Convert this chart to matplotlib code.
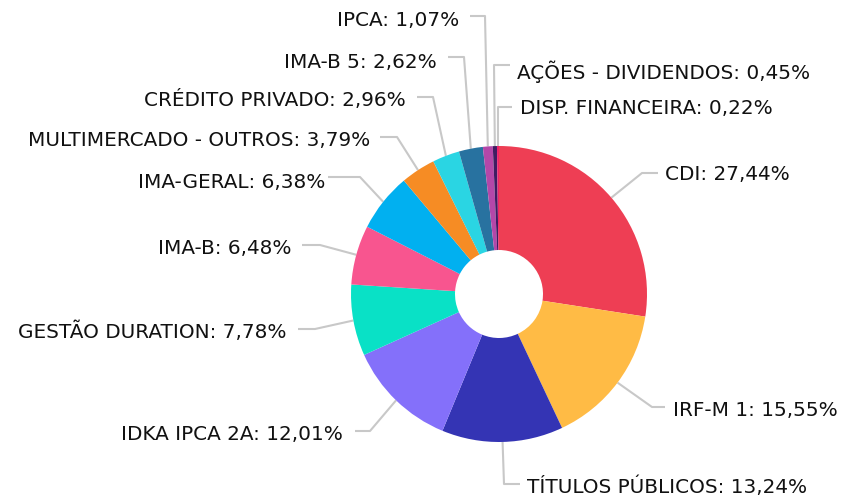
import matplotlib
matplotlib.use("Agg")
import matplotlib.pyplot as plt
import numpy as np

categories = ["CDI", "IRF-M 1", "TÍTULOS PÚBLICOS", "IDKA IPCA 2A", "GESTÃO DURATION",
              "IMA-B", "IMA-GERAL", "MULTIMERCADO - OUTROS", "CRÉDITO PRIVADO",
              "IMA-B 5", "IPCA", "AÇÕES - DIVIDENDOS", "DISP. FINANCEIRA"]
values = [27.44, 15.55, 13.24, 12.01, 7.78, 6.48, 6.38, 3.79, 2.96, 2.62, 1.07, 0.45, 0.22]
colors = ["#EE3E54", "#FFBB45", "#3434B4", "#8470FA", "#09E1C6", "#F8558F", "#01B0F0",
          "#F68C24", "#2AD5E3", "#2872A0", "#B447A9", "#3F1C62", "#F0216A"]

# label layout in pixel coords: (text_x, text_y, ha, elbow_x, elbow_y, hend_x)
layout = [
    (665, 175, "left", 642, 173, 658),
    (673, 410, "left", 652, 407, 665),
    (527, 487, "left", 504, 484, 520),
    (343, 435, "right", 370, 431, 355),
    (287, 332, "right", 315, 329, 298),
    (292, 248, "right", 320, 245, 302),
    (325, 182, "right", 360, 177, 328),
    (370, 140, "right", 397, 137, 380),
    (406, 100, "right", 433, 97, 417),
    (437, 62, "right", 464, 57, 448),
    (459, 21, "right", 485, 16, 470),
    (517, 72, "left", 494, 65, 510),
    (520, 108, "left", 498, 107, 512),
]

W, H = 843, 500
CX, CY, R, HOLE = 499, 294, 148, 44

def Y(y):
    return H - y

fig = plt.figure(figsize=(W / 100, H / 100), dpi=100)
ax = fig.add_axes([0, 0, 1, 1])
ax.pie(values, colors=colors, startangle=90, counterclock=False, radius=R,
       center=(CX, Y(CY)), wedgeprops=dict(width=R - HOLE, linewidth=0))
ax.set_xlim(0, W)
ax.set_ylim(0, H)
ax.set_aspect("equal")
ax.axis("off")

total = sum(values)
cum = 0.0
for cat, v, (tx, ty, ha, ex, ey, hx) in zip(categories, values, layout):
    mid = (cum + v / 2) / total
    cum += v
    theta = np.deg2rad(90 - 360 * mid)
    px = CX + R * np.cos(theta)
    py = Y(CY) + R * np.sin(theta)
    ax.plot([px, ex, hx], [py, Y(ey), Y(ey)], color="#C8C8C8", lw=1.5,
            zorder=0, solid_capstyle="butt")
    label = f"{cat}: {v:.2f}%".replace(".", ",")
    if cat == "DISP. FINANCEIRA":
        label = "DISP. FINANCEIRA: " + f"{v:.2f}".replace(".", ",") + "%"
    ax.text(tx, Y(ty), label, ha=ha, va="center", fontsize=14.4,
            family="DejaVu Sans", color="#111111")

fig.savefig("out.png", dpi=100)
